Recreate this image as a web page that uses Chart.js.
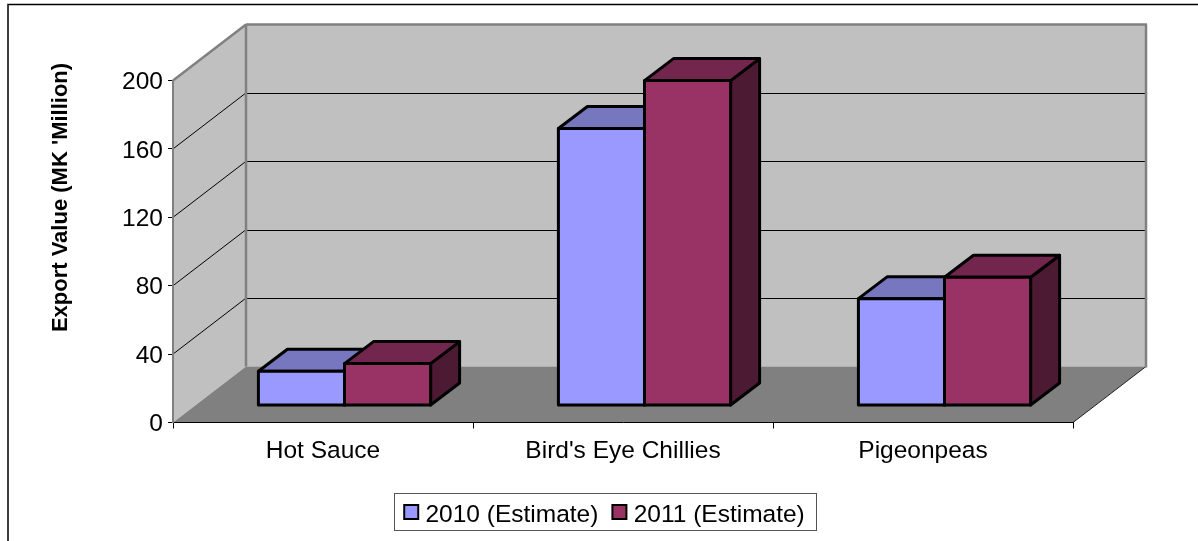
<!DOCTYPE html>
<html><head><meta charset="utf-8">
<style>html,body{margin:0;padding:0;background:#fff}canvas{display:block}</style>
<script src="https://cdn.jsdelivr.net/npm/chart.js@4"></script></head>
<body><canvas id="c" width="1198" height="541"></canvas>
<script>
const categories = ["Hot Sauce", "Bird's Eye Chillies", "Pigeonpeas"];
const series2010 = [20, 162, 62.5];
const series2011 = [24.5, 190, 75];
const label2010 = "2010 (Estimate)";
const label2011 = "2011 (Estimate)";
const yTitle = "Export Value (MK 'Million)";
const FONT = "'Liberation Sans', Arial, sans-serif";
const WALL = {dx: 73, dy: -56}, BAR = {dx: 29, dy: -22}, SHIFT = {x: 21.5, y: -17};
const topShade = ['#7777BF', '#73264D'], sideShade = ['#5A5A99', '#4D1A33'];

function poly(ctx, pts, fill, stroke, lw) {
  ctx.beginPath();
  pts.forEach((p, i) => i ? ctx.lineTo(p[0], p[1]) : ctx.moveTo(p[0], p[1]));
  ctx.closePath();
  if (fill) { ctx.fillStyle = fill; ctx.fill(); }
  if (stroke) { ctx.strokeStyle = stroke; ctx.lineWidth = lw; ctx.lineJoin = 'round'; ctx.stroke(); }
}
function line(ctx, x0, y0, x1, y1, color, lw) {
  ctx.beginPath(); ctx.moveTo(x0, y0); ctx.lineTo(x1, y1);
  ctx.strokeStyle = color; ctx.lineWidth = lw; ctx.stroke();
}
const scene = {
  id: 'scene',
  afterLayout(chart) {
    const l = chart.legend;
    const d = 604 - (l.left + l.right) / 2;
    l.left += d; l.right += d;
    l.top += 1; l.bottom += 1;
  },
  beforeDraw(chart) {
    const {ctx, chartArea: a, scales: {y}} = chart;
    y.getLabelItems(a).forEach(item => { item.options.translation[1] = y.getPixelForValue(Number(item.label)) + 2; });
    ctx.save();
    ctx.fillStyle = '#fff'; ctx.fillRect(0, 0, chart.width, chart.height);
    ctx.strokeStyle = '#000'; ctx.lineWidth = 1.5;
    ctx.strokeRect(8, 4.5, chart.width + 20, chart.height + 20);
    const dx = WALL.dx, dy = WALL.dy, L = a.left, R = a.right, T = a.top, B = a.bottom;
    poly(ctx, [[L+dx,T+dy],[R+dx,T+dy],[R+dx,B+dy],[L+dx,B+dy]], '#C0C0C0');
    poly(ctx, [[L,T],[L+dx,T+dy],[L+dx,B+dy],[L,B]], '#C0C0C0');
    poly(ctx, [[L,B],[R,B],[R+dx,B+dy],[L+dx,B+dy]], '#808080');
    y.ticks.forEach(t => {
      if (t.value === 0) return;
      const py = y.getPixelForValue(t.value);
      if (t.value < y.max) {
        line(ctx, L, py, L+dx, py+dy, '#000', 1);
        line(ctx, L+dx, Math.round(py+dy)+0.5, R+dx, Math.round(py+dy)+0.5, '#000', 1);
      }
    });
    line(ctx, R, B, R+dx, B+dy, '#222', 1);
    line(ctx, L, T, L+dx, T+dy, '#808080', 2.5);
    line(ctx, L+dx, T+dy, R+dx+1, T+dy, '#808080', 2.5);
    line(ctx, L+dx, T+dy, L+dx, B+dy, '#808080', 2.5);
    line(ctx, R+dx, T+dy, R+dx, B+dy+1, '#808080', 2.5);
    ctx.restore();
  },
  beforeDatasetsDraw(chart) {
    const {ctx} = chart;
    ctx.save();
    ctx.translate(SHIFT.x, SHIFT.y);
    categories.forEach((_, j) => {
      [0, 1].forEach(i => {
        const b = chart.getDatasetMeta(i).data[j];
        const l = b.x - b.width/2, r = b.x + b.width/2, t = b.y, s = b.base, d = BAR;
        poly(ctx, [[r,t],[r+d.dx,t+d.dy],[r+d.dx,s+d.dy],[r,s]], sideShade[i], '#000', 3);
        poly(ctx, [[l,t],[l+d.dx,t+d.dy],[r+d.dx,t+d.dy],[r,t]], topShade[i], '#000', 3);
      });
    });
  },
  afterDatasetsDraw(chart) {
    const {ctx} = chart;
    categories.forEach((_, j) => {
      [0, 1].forEach(i => {
        const b = chart.getDatasetMeta(i).data[j];
        ctx.strokeStyle = '#000'; ctx.lineWidth = 3; ctx.lineJoin = 'round';
        ctx.strokeRect(b.x - b.width/2, b.y, b.width, b.base - b.y);
      });
    });
    ctx.restore();
  },
  afterDraw(chart) {
    const {ctx} = chart, hits = chart.legend.legendHitBoxes;
    ctx.save();
    const h0 = hits[0], hN = hits[hits.length - 1];
    const x0 = Math.round(h0.left) - 8.5, x1 = Math.round(hN.left + hN.width) + 11.5;
    const yc = h0.top + h0.height/2;
    ctx.strokeStyle = '#555'; ctx.lineWidth = 1;
    ctx.strokeRect(x0, 493.5, x1 - x0, 37);
    hits.forEach((h, i) => {
      const ds = chart.data.datasets[i];
      ctx.fillStyle = '#fff'; ctx.fillRect(h.left - 3, yc - 10, 21, 20);
      ctx.fillStyle = ds.backgroundColor; ctx.strokeStyle = '#000'; ctx.lineWidth = 2;
      ctx.fillRect(h.left + 1, 505, 14, 14); ctx.strokeRect(h.left + 1, 505, 14, 14);
    });
    ctx.translate(61, 197.5); ctx.rotate(-Math.PI/2);
    ctx.font = 'bold 22px ' + FONT; ctx.fillStyle = '#000';
    ctx.textAlign = 'center'; ctx.textBaseline = 'middle';
    ctx.fillText(yTitle, 0, 0);
    ctx.restore();
  }
};
Chart.defaults.font.family = FONT;
new Chart(document.getElementById('c'), {
  type: 'bar',
  data: {labels: categories, datasets: [
    {label: label2010, data: series2010, backgroundColor: '#9999FF', borderColor: '#000', borderWidth: 0, clip: false},
    {label: label2011, data: series2011, backgroundColor: '#993366', borderColor: '#000', borderWidth: 0, clip: false}
  ]},
  options: {
    responsive: false, animation: false,
    categoryPercentage: 0.574, barPercentage: 1,
    layout: {padding: {top: 80.5, left: 0, right: 125, bottom: 5}},
    plugins: {
      tooltip: {enabled: false},
      legend: {position: 'bottom', labels: {font: {size: 24.5}, color: '#000', boxWidth: 10, boxHeight: 10, padding: 13}}
    },
    scales: {
      x: {
        afterFit(s) { s.height = 66; },
        grid: {drawOnChartArea: false, color: '#000', tickLength: 6},
        border: {color: '#000', width: 1},
        ticks: {color: '#000', font: {size: 24.5}, padding: 8, maxRotation: 0}
      },
      y: {
        min: 0, max: 200,
        afterFit(s) { s.width = 173; },
        grid: {drawOnChartArea: false, color: '#000', tickLength: 5},
        border: {color: '#808080', width: 2},
        ticks: {color: '#000', font: {size: 24.5}, stepSize: 40, padding: 5}
      }
    }
  },
  plugins: [scene]
});
</script></body></html>
